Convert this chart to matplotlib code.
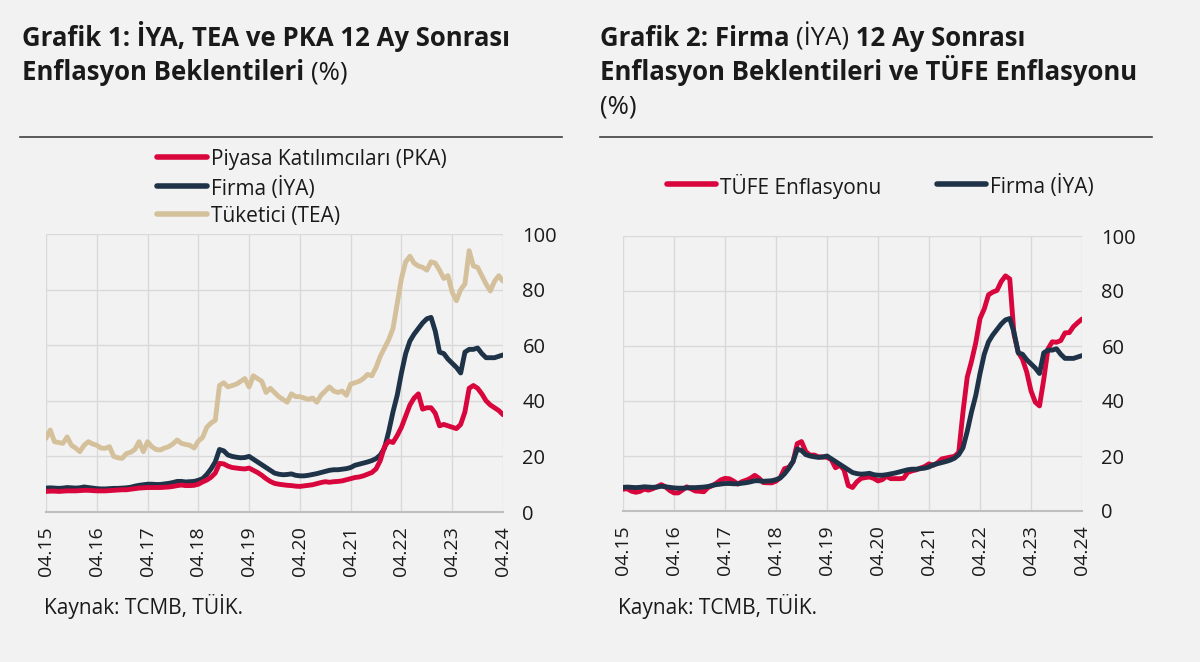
import numpy as np
import matplotlib
matplotlib.use('Agg')
import matplotlib.pyplot as plt
from matplotlib.lines import Line2D

plt.rcParams['font.family'] = ['Open Sans', 'DejaVu Sans']

# monthly data, 04.2015 - 04.2024
tick_labels = ['04.15', '04.16', '04.17', '04.18', '04.19', '04.20', '04.21', '04.22', '04.23', '04.24']

pka = [7.4, 7.5, 7.5, 7.4, 7.5, 7.6, 7.6, 7.6, 7.7,
       7.8, 7.8, 7.7, 7.6, 7.6, 7.6, 7.7, 7.8, 7.9, 8.0, 8.0, 8.2,
       8.4, 8.6, 8.7, 8.8, 8.8, 8.8, 8.8, 8.9, 9.0, 9.2, 9.5, 9.7,
       9.5, 9.5, 9.6, 10.0, 10.8, 11.5, 12.5, 14.0, 17.5, 17.3, 16.5, 16.0,
       15.8, 15.6, 15.5, 15.8, 15.0, 14.2, 13.2, 12.0, 11.0, 10.3, 10.0, 9.8,
       9.6, 9.5, 9.3, 9.2, 9.4, 9.6, 9.8, 10.2, 10.6, 10.9, 10.7, 10.9,
       11.0, 11.2, 11.6, 12.0, 12.4, 12.6, 13.0, 13.6, 14.2, 15.5, 18.5, 23.5,
       25.5, 25.0, 27.5, 30.5, 34.5, 38.5, 41.0, 42.5, 37.0, 37.5, 37.5, 35.5,
       31.0, 31.5, 31.0, 30.5, 30.0, 31.5, 36.0, 44.5, 45.5, 44.5, 42.5, 40.0,
       38.5, 37.5, 36.5, 35.0]

iya = [8.6, 8.7, 8.6, 8.5, 8.6, 8.8, 8.7, 8.6, 8.7,
       9.0, 8.8, 8.6, 8.4, 8.3, 8.3, 8.4, 8.5, 8.5, 8.6, 8.7, 8.9,
       9.3, 9.6, 9.8, 10.0, 10.0, 9.9, 9.9, 10.1, 10.3, 10.6, 11.0, 11.0,
       10.8, 10.9, 11.0, 11.4, 12.0, 13.5, 15.5, 18.0, 22.5, 22.0, 20.5, 20.0,
       19.7, 19.5, 19.6, 20.0, 19.0, 18.0, 17.0, 16.0, 15.0, 14.0, 13.6, 13.4,
       13.5, 13.7, 13.2, 13.0, 13.0, 13.2, 13.5, 13.8, 14.2, 14.6, 15.0, 15.2,
       15.2, 15.4, 15.6, 16.0, 16.8, 17.2, 17.6, 18.0, 18.5, 19.2, 20.5, 23.0,
       29.0, 36.0, 42.0, 50.0, 57.0, 61.5, 64.0, 66.0, 68.0, 69.5, 70.0, 65.0,
       57.5, 57.0, 55.0, 53.5, 52.0, 50.0, 57.5, 58.5, 58.5, 59.0, 57.0, 55.5,
       55.5, 55.5, 56.0, 56.5]

tea = [26.5, 29.5, 25.3, 25.0, 24.7, 27.0, 24.0, 23.0, 21.7,
       24.0, 25.3, 24.5, 24.0, 23.0, 22.9, 23.5, 20.0, 19.5, 19.3, 21.0, 21.5,
       22.5, 25.3, 21.7, 25.3, 23.5, 22.5, 22.3, 23.0, 23.5, 24.5, 25.9, 24.7,
       24.3, 24.0, 23.0, 25.5, 26.8, 30.5, 32.0, 33.0, 45.5, 46.5, 45.0, 45.5,
       46.0, 47.0, 48.0, 45.0, 49.0, 48.0, 47.0, 43.0, 44.5, 43.0, 41.5, 40.5,
       39.5, 42.5, 41.5, 41.5, 41.0, 40.5, 41.0, 39.5, 42.0, 43.5, 45.0, 43.5,
       43.0, 43.5, 42.0, 46.0, 46.5, 47.0, 48.0, 49.5, 49.0, 52.0, 56.0, 59.0,
       62.0, 66.0, 75.0, 84.0, 90.0, 92.0, 89.5, 88.5, 88.0, 87.0, 90.0, 89.5,
       87.0, 84.0, 85.0, 79.0, 76.0, 80.0, 82.0, 94.0, 88.5, 88.0, 85.0, 82.0,
       79.5, 83.0, 85.0, 83.0]

tufe = [7.91, 8.09, 7.20, 6.81, 7.14, 7.95, 7.58, 8.10, 8.81,
        9.58, 8.78, 7.46, 6.57, 6.58, 7.64, 8.79, 8.05, 7.28, 7.16, 7.00, 8.53,
        9.22, 10.13, 11.29, 11.87, 11.72, 10.90, 9.79, 10.68, 11.20, 11.90, 12.98, 11.92,
        10.35, 10.26, 10.23, 10.85, 12.15, 15.39, 15.85, 17.90, 24.52, 25.24, 21.62, 20.30,
        20.35, 19.67, 19.71, 19.50, 18.71, 15.72, 16.65, 15.01, 9.26, 8.55, 10.56, 11.84,
        12.15, 12.37, 11.86, 10.94, 11.39, 12.62, 11.76, 11.77, 11.75, 11.89, 14.03, 14.60,
        14.97, 15.61, 16.19, 17.14, 16.59, 17.53, 18.95, 19.25, 19.58, 19.89, 21.31, 36.08,
        48.69, 54.44, 61.14, 69.97, 73.50, 78.62, 79.60, 80.21, 83.45, 85.51, 84.39, 64.27,
        57.68, 55.18, 50.51, 43.68, 39.59, 38.21, 47.83, 58.94, 61.53, 61.36, 61.98, 64.77,
        64.86, 67.07, 68.50, 69.80]

months = np.arange(len(tufe))

RED = '#d8063c'
NAVY = '#1e3348'
TAN = '#d5c09c'
BG = '#f2f2f2'
GRID = '#d9d9d9'
TXT = '#1a1a1a'
W, H = 1200, 662
TITLE_SIZE = 18.5
LEG_SIZE = 15


def fx(x):
    return x / W


def fy(y):
    return 1 - y / H


fig = plt.figure(figsize=(12, 6.62), dpi=100, facecolor=BG)
renderer = fig.canvas.get_renderer()


def rich_text(x, y, parts, size):
    # parts: list of (text, weight), drawn one after another
    for s, wt in parts:
        t = fig.text(fx(x), fy(y), s, fontsize=size, fontweight=wt, color=TXT, va='baseline', ha='left')
        bb = t.get_window_extent(renderer)
        x += bb.width


def style_axes(ax):
    ax.set_facecolor(BG)
    ax.set_xlim(0, 108)
    ax.set_ylim(0, 100)
    ax.set_xticks(np.arange(0, 109, 12))
    ax.set_xticklabels(tick_labels, rotation=90, fontsize=14, color=TXT)
    ax.set_yticks(np.arange(0, 101, 20))
    ax.yaxis.tick_right()
    ax.tick_params(axis='y', length=0, pad=14, labelsize=14.5, labelcolor=TXT)
    ax.tick_params(axis='x', length=0, pad=10)
    ax.grid(True, color=GRID, lw=1)
    ax.set_axisbelow(True)
    for s in ['top', 'left', 'right']:
        ax.spines[s].set_visible(False)
    ax.spines['bottom'].set_color('#bfbfbf')
    ax.spines['bottom'].set_linewidth(1.5)
    for lab in ax.get_yticklabels():
        lab.set_horizontalalignment('left')


# ---- Grafik 1
ax1 = fig.add_axes([fx(46), fy(512), fx(503) - fx(46), fy(234) - fy(512)])
style_axes(ax1)
ax1.plot(months, tea, color=TAN, lw=3.5, solid_capstyle='round', solid_joinstyle='round')
ax1.plot(months, iya, color=NAVY, lw=3.5, solid_capstyle='round', solid_joinstyle='round')
ax1.plot(months, pka, color=RED, lw=3.5, solid_capstyle='round', solid_joinstyle='round')

rich_text(22, 46, [('Grafik 1: İYA, TEA ve PKA 12 Ay Sonrası', 'bold')], TITLE_SIZE)
rich_text(22, 80, [('Enflasyon Beklentileri ', 'bold'), ('(%)', 'normal')], TITLE_SIZE)
fig.add_artist(Line2D([fx(20), fx(562)], [fy(137), fy(137)], color='#404040', lw=1.2))

leg1 = [('Piyasa Katılımcıları (PKA)', RED, 157), ('Firma (İYA)', NAVY, 186), ('Tüketici (TEA)', TAN, 214)]
for lab, c, y in leg1:
    fig.add_artist(Line2D([fx(157), fx(207)], [fy(y), fy(y)], color=c, lw=4, solid_capstyle='round'))
    fig.text(fx(211), fy(y), lab, fontsize=LEG_SIZE, color=TXT, va='center_baseline', ha='left')

fig.text(fx(44), fy(614), 'Kaynak: TCMB, TÜİK.', fontsize=LEG_SIZE, color=TXT, va='baseline', ha='left')

# ---- Grafik 2
ax2 = fig.add_axes([fx(623), fy(511), fx(1082) - fx(623), fy(236) - fy(511)])
style_axes(ax2)
ax2.plot(months, tufe, color=RED, lw=3.5, solid_capstyle='round', solid_joinstyle='round')
ax2.plot(months, iya, color=NAVY, lw=3.5, solid_capstyle='round', solid_joinstyle='round')

rich_text(600, 46, [('Grafik 2: Firma ', 'bold'), ('(İYA)', 'normal'), (' 12 Ay Sonrası', 'bold')], TITLE_SIZE)
rich_text(600, 80, [('Enflasyon Beklentileri ve TÜFE Enflasyonu', 'bold')], TITLE_SIZE)
rich_text(600, 114, [('(%)', 'normal')], TITLE_SIZE)
fig.add_artist(Line2D([fx(600), fx(1152)], [fy(137), fy(137)], color='#404040', lw=1.2))

leg2 = [('TÜFE Enflasyonu', RED, 667), ('Firma (İYA)', NAVY, 937)]
for lab, c, x in leg2:
    fig.add_artist(Line2D([fx(x), fx(x + 49)], [fy(184), fy(184)], color=c, lw=4, solid_capstyle='round'))
    fig.text(fx(x + 53), fy(184), lab, fontsize=LEG_SIZE, color=TXT, va='center_baseline', ha='left')

fig.text(fx(618), fy(614), 'Kaynak: TCMB, TÜİK.', fontsize=LEG_SIZE, color=TXT, va='baseline', ha='left')

plt.savefig('out.png', dpi=100, facecolor=BG)
